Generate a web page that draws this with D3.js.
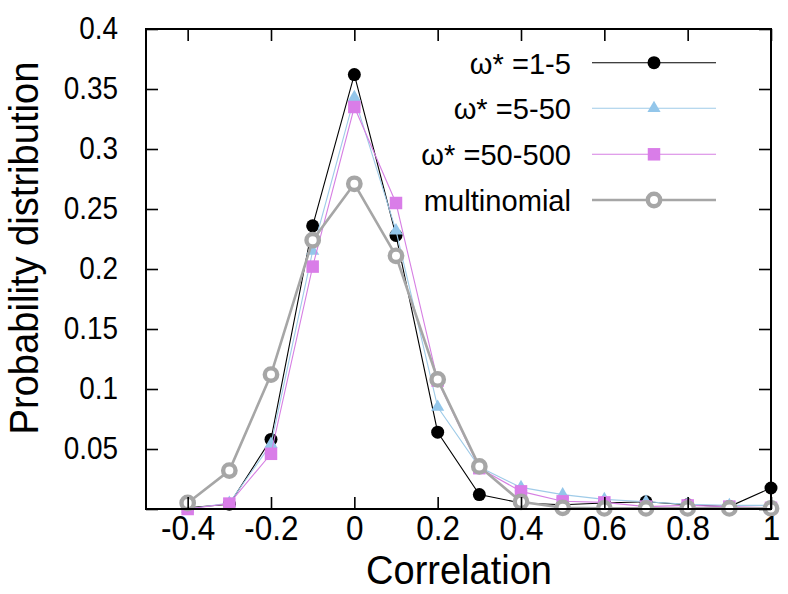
<!DOCTYPE html>
<html>
<head>
<meta charset="utf-8">
<script src="https://cdn.jsdelivr.net/npm/d3@7"></script>
<style>
  html, body { margin: 0; padding: 0; background: #fff; }
  svg { display: block; }
  text { font-family: "Liberation Sans", Arial, Helvetica, sans-serif; fill: #000; }
</style>
</head>
<body>
<svg id="chart" width="788" height="594"></svg>
<script>
// ---- data ----
const xValues = [-0.4, -0.3, -0.2, -0.1, 0, 0.1, 0.2, 0.3, 0.4, 0.5, 0.6, 0.7, 0.8, 0.9, 1.0];
const omega1to5 = [0.001, 0.004, 0.058, 0.236, 0.362, 0.228, 0.064, 0.012, 0.005, 0.0035, 0.005, 0.006, 0.0035, 0.002, 0.0175];
const omega5to50 = [0.000, 0.005, 0.054, 0.215, 0.343, 0.232, 0.085, 0.035, 0.018, 0.012, 0.008, 0.006, 0.004, 0.003, 0.003];
const omega50to500 = [0.000, 0.0045, 0.046, 0.202, 0.335, 0.255, 0.107, 0.034, 0.0147, 0.0064, 0.0055, 0.002, 0.003, 0.002, 0.001];
const multinomial = [0.005, 0.032, 0.112, 0.224, 0.271, 0.211, 0.108, 0.0355, 0.006, 0.001, 0.0005, 0.0005, 0.0005, 0.0005, 0.0005];
const seriesNames = ["ω* =1-5", "ω* =5-50", "ω* =50-500", "multinomial"];
const xTickValues = [-0.4, -0.2, 0, 0.2, 0.4, 0.6, 0.8, 1];
const yTickValues = [0, 0.05, 0.1, 0.15, 0.2, 0.25, 0.3, 0.35, 0.4];
const xTitle = "Correlation";
const yTitle = "Probability distribution";

// ---- layout ----
const svg = d3.select("#chart");
const L = 146, R = 771, T = 29, B = 509;
const x = d3.scaleLinear().domain([-0.5, 1]).range([L, R]);
const y = d3.scaleLinear().domain([0, 0.4]).range([B, T]);
const SX = 0.9; // text is narrower than Liberation Sans in the reference

const styles = [
  { line: "#000000", lw: 1.1, fill: "#000000", sym: "circle" },
  { line: "#9fcbe8", lw: 1.1, fill: "#93c6ea", sym: "triangle" },
  { line: "#d67fe3", lw: 1.1, fill: "#d97de8", sym: "square" },
  { line: "#a6a6a6", lw: 2.6, fill: "#a6a6a6", sym: "ring" }
];
const seriesData = [omega1to5, omega5to50, omega50to500, multinomial];

svg.append("rect").attr("width", 788).attr("height", 594).attr("fill", "#fff");

function drawMarker(g, st, cx, cy) {
  if (st.sym === "circle") {
    g.append("circle").attr("cx", cx).attr("cy", cy).attr("r", 6.5).attr("fill", st.fill);
  } else if (st.sym === "triangle") {
    g.append("path").attr("d", d3.symbol(d3.symbolTriangle, 75)())
      .attr("transform", `translate(${cx},${cy})`).attr("fill", st.fill);
  } else if (st.sym === "square") {
    g.append("path").attr("d", d3.symbol(d3.symbolSquare, 156)())
      .attr("transform", `translate(${cx},${cy})`).attr("fill", st.fill);
  } else {
    g.append("circle").attr("cx", cx).attr("cy", cy).attr("r", 6.2)
      .attr("fill", "#ffffff").attr("stroke", st.fill).attr("stroke-width", 4.4);
  }
}

function label(g, tx, ty, str, size, sx, anchor, rot) {
  return g.append("text")
    .attr("transform", `translate(${tx},${ty})${rot ? " rotate(" + rot + ")" : ""} scale(${sx},1)`)
    .attr("text-anchor", anchor).attr("font-size", size).text(str);
}

// ---- series ----
const plot = svg.append("g");
const line = d3.line().x(d => x(d[0])).y(d => y(d[1]));
seriesData.forEach((vals, i) => {
  const st = styles[i];
  const pts = xValues.map((xv, j) => [xv, vals[j]]);
  const g = plot.append("g");
  g.append("path").attr("d", line(pts)).attr("fill", "none")
    .attr("stroke", st.line).attr("stroke-width", st.lw);
  pts.forEach(p => drawMarker(g, st, x(p[0]), y(p[1])));
});

// ---- axes ----
const xAxis = svg.append("g").attr("transform", `translate(0,${B})`)
  .call(d3.axisBottom(x).tickValues(xTickValues).tickSizeInner(-12).tickSizeOuter(0)
    .tickPadding(6).tickFormat(d => String(d)));
const yAxis = svg.append("g").attr("transform", `translate(${L},0)`)
  .call(d3.axisLeft(y).tickValues(yTickValues).tickSizeInner(-12).tickSizeOuter(0)
    .tickPadding(28).tickFormat(d => (d === 0 ? "" : String(d))));
const xTop = svg.append("g").attr("transform", `translate(0,${T})`)
  .call(d3.axisTop(x).tickValues(xTickValues).tickSizeInner(-12).tickSizeOuter(0).tickFormat(""));
const yRight = svg.append("g").attr("transform", `translate(${R},0)`)
  .call(d3.axisRight(y).tickValues(yTickValues).tickSizeInner(-12).tickSizeOuter(0).tickFormat(""));
[xAxis, yAxis, xTop, yRight].forEach(a => {
  a.select(".domain").remove();
  a.selectAll(".tick line").attr("stroke", "#000").attr("stroke-width", 1.6);
});
xAxis.selectAll("text").attr("font-size", 35).attr("font-family", "Liberation Sans, Arial, sans-serif")
  .attr("fill", "#000").attr("transform", `scale(${SX},1)`);
yAxis.selectAll("text").attr("font-size", 31).attr("font-family", "Liberation Sans, Arial, sans-serif")
  .attr("fill", "#000").attr("x", -28 / SX).attr("transform", `scale(${SX},1)`);

svg.append("rect").attr("x", L).attr("y", T).attr("width", R - L).attr("height", B - T)
  .attr("fill", "none").attr("stroke", "#000").attr("stroke-width", 2);

// ---- titles ----
label(svg, 459, 584, xTitle, 40, 0.95, "middle");
label(svg, 38, 248, yTitle, 41, 0.93, "middle", -90);

// ---- legend ----
const legend = svg.append("g");
const rowY = [62.7, 108.3, 154.3, 200];
seriesNames.forEach((name, i) => {
  const st = styles[i];
  const yy = rowY[i];
  label(legend, 571, yy + 11, name, 30, 0.97, "end");
  legend.append("line").attr("x1", 592).attr("x2", 716).attr("y1", yy).attr("y2", yy)
    .attr("stroke", st.line).attr("stroke-width", st.lw);
  drawMarker(legend, st, 654, yy);
});
</script>
</body>
</html>
